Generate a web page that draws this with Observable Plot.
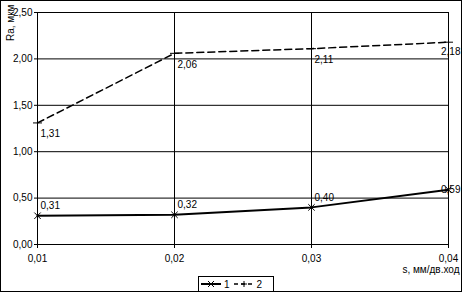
<!DOCTYPE html>
<html><head><meta charset="utf-8">
<script src="https://cdn.jsdelivr.net/npm/d3@7"></script>
<script src="https://cdn.jsdelivr.net/npm/@observablehq/plot@0.6"></script>
<style>
body{margin:0;background:#fff;}
#wrap{position:relative;width:462px;height:292px;overflow:hidden;font-family:"Liberation Sans",Arial,sans-serif;}
#border{position:absolute;left:0;top:0;width:462px;height:292px;box-sizing:border-box;border:1px solid #000;pointer-events:none;}
#legend{position:absolute;left:198px;top:276px;width:76px;height:16px;box-sizing:border-box;border:1px solid #000;background:#fff;font-size:10px;display:flex;align-items:center;padding-left:2px;}
#legend span{margin:0 4px 0 3px;}
</style></head>
<body>
<div id="wrap"><div id="chart"></div><div id="legend"></div><div id="border"></div></div>
<script>
const feeds = [0.01, 0.02, 0.03, 0.04];
const series1 = [0.31, 0.32, 0.40, 0.59];
const series2 = [1.31, 2.06, 2.11, 2.18];
const seriesNames = ["1", "2"];
const yTicks = [0, 0.5, 1, 1.5, 2, 2.5];
const xLabel = "s, мм/дв.ход";
const yLabel = "Ra, мкм";

const fmt = d => d.toFixed(2).replace(".", ",");
const d1 = feeds.map((x, i) => ({x, y: series1[i], i}));
const d2 = feeds.map((x, i) => ({x, y: series2[i], i}));
const last = feeds.length - 1;
const font = {fontSize: 10, fill: "black"};

const chart = Plot.plot({
  width: 462, height: 292,
  marginLeft: 37, marginRight: 14, marginTop: 12, marginBottom: 48,
  style: {fontFamily: '"Liberation Sans", Arial, sans-serif', fontSize: "10px", color: "black", background: "white", overflow: "visible"},
  x: {domain: [0.01, 0.04], ticks: feeds, tickFormat: fmt, label: null},
  y: {domain: [0, 2.5], ticks: yTicks, tickFormat: fmt, label: null},
  marks: [
    Plot.gridY(yTicks, {stroke: "black", strokeOpacity: 1}),
    Plot.gridX(feeds.slice(1, -1), {stroke: "black", strokeOpacity: 1}),
    Plot.frame({stroke: "black"}),
    Plot.axisY({ticks: yTicks, tickFormat: fmt, tickSize: 3, tickPadding: 2, label: null}),
    Plot.axisX({ticks: feeds, tickFormat: fmt, tickSize: 4, tickPadding: 6, label: null}),
    Plot.line(d2, {x: "x", y: "y", stroke: "black", strokeWidth: 1.5, strokeDasharray: "7,4"}),
    Plot.line(d1, {x: "x", y: "y", stroke: "black", strokeWidth: 2}),
    Plot.dot(d1, {x: "x", y: "y", symbol: "times", r: 3, stroke: "black", strokeWidth: 1}),
    Plot.dot(d2, {x: "x", y: "y", symbol: "plus", r: 3, stroke: "black", strokeWidth: 1}),
    Plot.text(d1.filter(d => d.i < last), {x: "x", y: "y", text: d => fmt(d.y), textAnchor: "start", dx: 3, dy: -10, ...font}),
    Plot.text(d1.filter(d => d.i === last), {x: "x", y: "y", text: d => fmt(d.y), textAnchor: "end", dx: 12, dy: 0, ...font}),
    Plot.text(d2.filter(d => d.i < last), {x: "x", y: "y", text: d => fmt(d.y), textAnchor: "start", dx: 3, dy: 11, ...font}),
    Plot.text(d2.filter(d => d.i === last), {x: "x", y: "y", text: d => fmt(d.y), textAnchor: "end", dx: 12, dy: 10, ...font}),
    Plot.text([yLabel], {frameAnchor: "top-left", text: d => d, rotate: -90, textAnchor: "end", dx: -31, dy: -8, ...font}),
    Plot.text([xLabel], {frameAnchor: "bottom-right", text: d => d, textAnchor: "end", dx: 11, dy: 28, ...font})
  ]
});
document.getElementById("chart").appendChild(chart);

// legend
const lg = document.getElementById("legend");
const syms = [
  {dash: null, sym: "M-3,-3L3,3M-3,3L3,-3", w: 2},
  {dash: "4,3", sym: "M-3,0L3,0M0,-3L0,3", w: 1.5}
];
seriesNames.forEach((name, k) => {
  const s = syms[k];
  const svg = d3.create("svg").attr("width", 20).attr("height", 10);
  svg.append("line").attr("x1", 0).attr("x2", 20).attr("y1", 5).attr("y2", 5)
    .attr("stroke", "black").attr("stroke-width", s.w).attr("stroke-dasharray", s.dash);
  svg.append("path").attr("d", s.sym).attr("transform", "translate(10,5)").attr("stroke", "black").attr("fill", "none");
  lg.appendChild(svg.node());
  const sp = document.createElement("span"); sp.textContent = name; lg.appendChild(sp);
});
</script>
</body></html>
